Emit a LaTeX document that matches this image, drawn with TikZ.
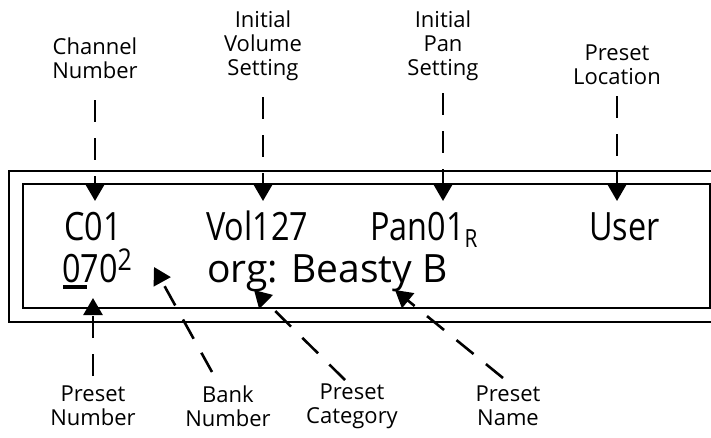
\documentclass[tikz,border=0pt]{standalone}
\usepackage{fontspec}
\setmainfont{Open Sans}
\newfontfamily\lcd[FakeStretch=0.83]{Open Sans}
\usetikzlibrary{arrows.meta}
\begin{document}
\begin{tikzpicture}[x=1pt,y=-1pt,
  lbl/.style={align=center, font=\fontsize{22}{24}\selectfont, inner sep=0pt},
  disp/.style={anchor=base west, inner sep=0pt, font=\lcd\fontsize{39}{39}\selectfont},
  displow/.style={anchor=base west, inner sep=0pt, font=\fontsize{39}{39}\selectfont},
  frame/.style={line width=2.2pt},
  conn/.style={line width=2.6pt, dash pattern=on 22pt off 16pt, -{Triangle[length=17pt,width=19pt]}},
]
\useasboundingbox (0,0) rectangle (711,437);
% frames
\draw[frame] (9,171) rectangle (730,322);
\draw[frame] (23,184) rectangle (710,308);
% display text
\node[disp] (c01) at (64,240) {C01};
\node[disp] (vol) at (206,240) {Vol127};
\node[disp] (pan) at (370,240) {Pan01\raisebox{-7pt}{\fontsize{25}{25}\selectfont R}};
\node[disp] (user) at (589,240) {User};
\node[disp] (num) at (62,282) {070\raisebox{12pt}{\fontsize{30}{30}\selectfont 2}};
\fill (num.base west) ++(1,2.5) rectangle ++(24,4);
\node[displow] (org) at (207,282) {org: Beasty B};
% top labels
\node[lbl] (ch) at (95,58) {Channel\\Number};
\node[lbl] (vl) at (263,46) {Initial\\Volume\\Setting};
\node[lbl] (pl) at (443,46) {Initial\\Pan\\Setting};
\node[lbl] (ll) at (617,65) {Preset\\Location};
% bottom labels
\node[lbl] (pn) at (93,406) {Preset\\Number};
\node[lbl] (bn) at (228,406) {Bank\\Number};
\node[lbl] (pc) at (352,406) {Preset\\Category};
\node[lbl] (pm) at (508,406) {Preset\\Name};
% connector ends
\coordinate (s1) at (95,100);  \coordinate (t1) at (95,201);
\coordinate (s2) at (263,97);  \coordinate (t2) at (263,201);
\coordinate (s3) at (443,93);  \coordinate (t3) at (443,201);
\coordinate (s4) at (617,96);  \coordinate (t4) at (617,201);
\coordinate (s5) at (93,376);  \coordinate (t5) at (93,298);
\coordinate (s6) at (212,372); \coordinate (t6) at (154,267);
\coordinate (s7) at (345,380); \coordinate (t7) at (254,290);
\coordinate (s8) at (503,378); \coordinate (t8) at (395,290);
\foreach \i in {1,...,8} \draw[conn] (s\i) -- (t\i);
\end{tikzpicture}
\end{document}
